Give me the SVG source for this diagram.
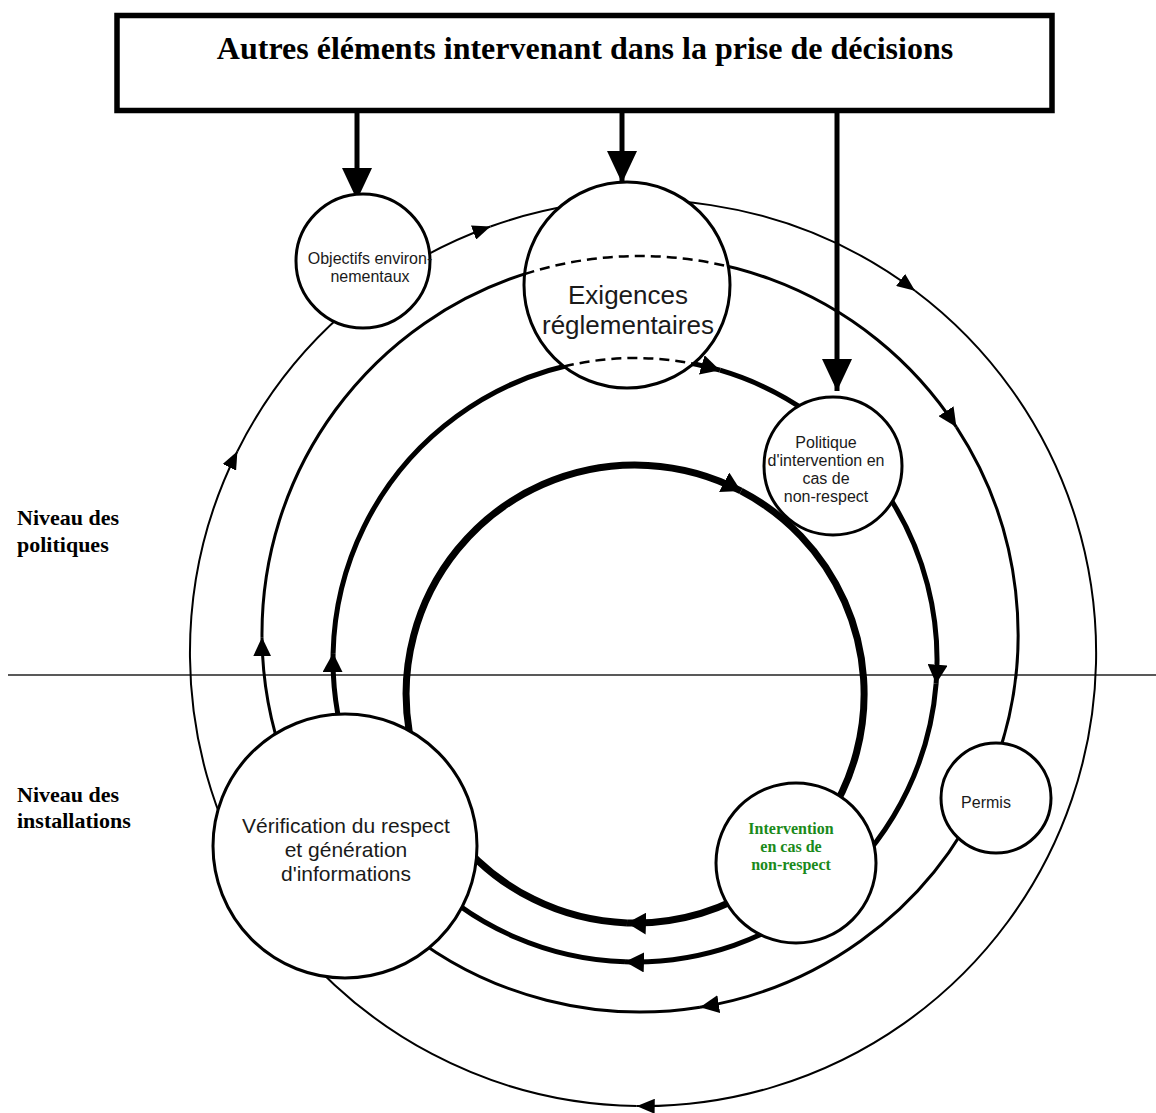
<svg xmlns="http://www.w3.org/2000/svg" width="1156" height="1113" viewBox="0 0 1156 1113">
<style>
.node{fill:#fff;stroke:#000;stroke-width:3}
.ring{fill:none;stroke:#000}
.rA{stroke-width:2}
.rB{stroke-width:3}
.rC{stroke-width:5}
.rD{stroke-width:7}
.dash{fill:none;stroke:#000;stroke-width:2.5;stroke-dasharray:10 6}
.sans{font-family:"Liberation Sans",Arial,sans-serif;fill:#1a1a1a;text-anchor:middle}
.serifb{font-family:"Liberation Serif","Times New Roman",serif;font-weight:bold;fill:#000}
</style>
<defs>
<marker id="mBox" markerUnits="userSpaceOnUse" viewBox="0 0 32 30" markerWidth="32" markerHeight="30" refX="32" refY="15" orient="auto"><path d="M0,0 L32,15 L0,30 z" fill="#000"/></marker>
<marker id="mA" markerUnits="userSpaceOnUse" viewBox="0 0 18 15" markerWidth="18" markerHeight="15" refX="18" refY="7.5" orient="auto"><path d="M0,0 L18,7.5 L0,15 z" fill="#000"/></marker>
<marker id="mB" markerUnits="userSpaceOnUse" viewBox="0 0 19 18" markerWidth="19" markerHeight="18" refX="19" refY="9" orient="auto"><path d="M0,0 L19,9 L0,18 z" fill="#000"/></marker>
<marker id="mC" markerUnits="userSpaceOnUse" viewBox="0 0 19 20" markerWidth="19" markerHeight="20" refX="19" refY="10" orient="auto"><path d="M0,0 L19,10 L0,20 z" fill="#000"/></marker>
<marker id="mD" markerUnits="userSpaceOnUse" viewBox="0 0 19 22" markerWidth="19" markerHeight="22" refX="19" refY="11" orient="auto"><path d="M0,0 L19,11 L0,22 z" fill="#000"/></marker>
</defs>
<rect width="1156" height="1113" fill="#fff"/>

<g id="level-divider">
<line x1="8" y1="675" x2="1156" y2="675" stroke="#222" stroke-width="1.5"/>
<text class="serifb" x="17" y="525" font-size="22">Niveau des</text>
<text class="serifb" x="17" y="552" font-size="22">politiques</text>
<text class="serifb" x="17" y="802" font-size="22">Niveau des</text>
<text class="serifb" x="17" y="828" font-size="22">installations</text>
</g>

<g id="connectors">
<g id="ringA">
<path class="ring rA" d="M237.4,451.2 A453,453 0 0 1 490.5,226.5" marker-end="url(#mA)"/>
<path class="ring rA" d="M490.5,226.5 A453,453 0 0 1 915.0,290.7" marker-end="url(#mA)"/>
<path class="ring rA" d="M915.0,290.7 A453,453 0 0 1 636.7,1106.0" marker-end="url(#mA)"/>
<path class="ring rA" d="M636.7,1106.0 A453,453 0 0 1 237.4,451.2" marker-end="url(#mA)"/>
</g>
<g id="ringB">
<path class="ring rB" d="M262.0,637.3 A378,378 0 0 1 956.4,427.1" marker-end="url(#mB)"/>
<path class="ring rB" d="M956.4,427.1 A378,378 0 0 1 700.0,1007.2" marker-end="url(#mB)"/>
<path class="ring rB" d="M700.0,1007.2 A378,378 0 0 1 262.0,637.3" marker-end="url(#mB)"/>
</g>
<g id="ringC">
<path class="ring rC" d="M333.1,653.1 A302,302 0 0 1 720.0,370.2" marker-end="url(#mC)"/>
<path class="ring rC" d="M720.0,370.2 A302,302 0 0 1 936.1,683.7" marker-end="url(#mC)"/>
<path class="ring rC" d="M936.1,683.7 A302,302 0 0 1 625.0,961.8" marker-end="url(#mC)"/>
<path class="ring rC" d="M625.0,961.8 A302,302 0 0 1 333.1,653.1" marker-end="url(#mC)"/>
</g>
<g id="ringD">
<path class="ring rD" d="M627.0,922.9 A229,229 0 1 1 741.0,491.0" marker-end="url(#mD)"/>
<path class="ring rD" d="M741.0,491.0 A229,229 0 0 1 627.0,922.9" marker-end="url(#mD)"/>
</g>
<g id="box-arrows" stroke="#000" stroke-width="5">
<line x1="357" y1="113" x2="357" y2="200" marker-end="url(#mBox)"/>
<line x1="622" y1="113" x2="622" y2="183" marker-end="url(#mBox)"/>
<line x1="837" y1="113" x2="837" y2="391" marker-end="url(#mBox)"/>
</g>
</g>

<g id="node-box">
<rect x="117" y="15.5" width="935" height="95" fill="#fff" stroke="#000" stroke-width="5.5"/>
<text class="serifb" x="585" y="59" font-size="32" text-anchor="middle">Autres éléments intervenant dans la prise de décisions</text>
</g>

<g id="node-objectifs">
<circle class="node" cx="363" cy="261" r="67"/>
<text class="sans" font-size="16"><tspan x="370" y="264">Objectifs environ-</tspan><tspan x="370" y="282">nementaux</tspan></text>
</g>

<g id="node-exigences">
<circle class="node" cx="627" cy="285" r="103"/>
<path class="dash" d="M524.6,274.0 A378,378 0 0 1 728.3,266.5"/>
<path class="dash" d="M564.0,366.5 A302,302 0 0 1 693.4,363.7"/>
<text class="sans" font-size="26"><tspan x="628" y="304">Exigences</tspan><tspan x="628" y="334">réglementaires</tspan></text>
</g>

<g id="node-politique">
<circle class="node" cx="833" cy="466" r="69"/>
<text class="sans" font-size="16"><tspan x="826" y="448">Politique</tspan><tspan x="826" y="466">d'intervention en</tspan><tspan x="826" y="484">cas de</tspan><tspan x="826" y="502">non-respect</tspan></text>
</g>

<g id="node-permis">
<circle class="node" cx="996" cy="798" r="55"/>
<text class="sans" font-size="16" x="986" y="808">Permis</text>
</g>

<g id="node-intervention">
<circle class="node" cx="796" cy="863" r="80"/>
<text class="serifb" font-size="16" text-anchor="middle" style="fill:#1a8a1a"><tspan x="791" y="834">Intervention</tspan><tspan x="791" y="852">en cas de</tspan><tspan x="791" y="870">non-respect</tspan></text>
</g>

<g id="node-verification">
<circle class="node" cx="345" cy="846" r="132"/>
<text class="sans" font-size="21"><tspan x="346" y="833">Vérification du respect</tspan><tspan x="346" y="857">et génération</tspan><tspan x="346" y="881">d'informations</tspan></text>
</g>
</svg>
